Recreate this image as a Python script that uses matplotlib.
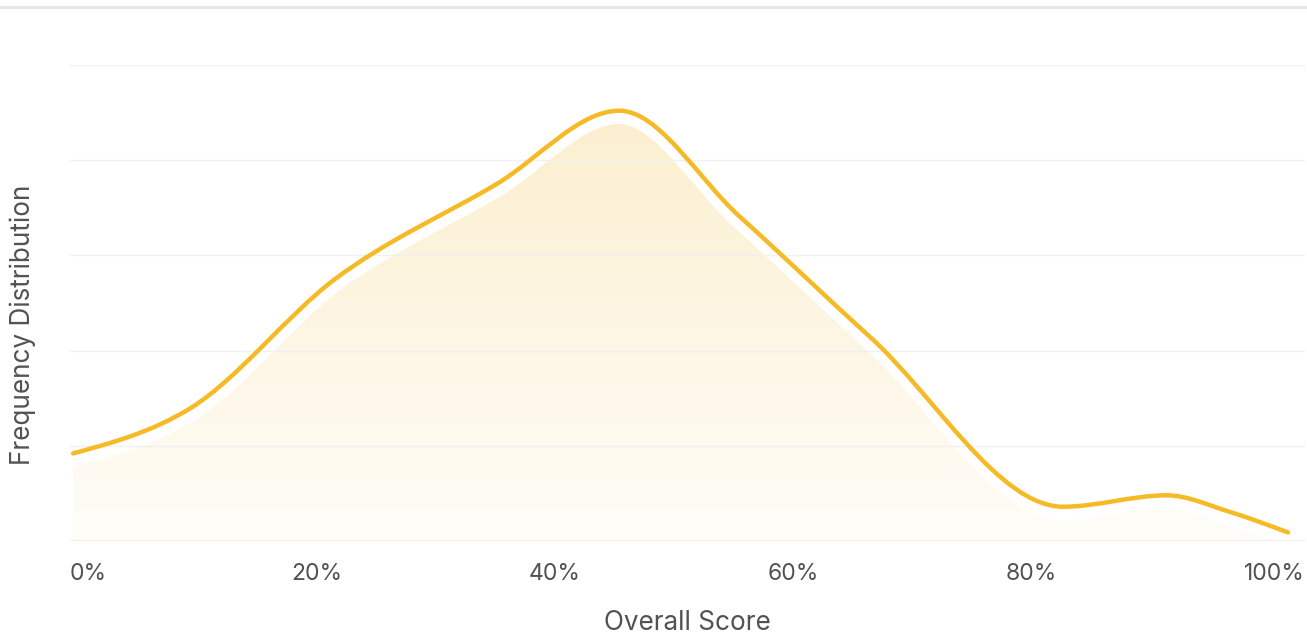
import matplotlib.pyplot as plt
import matplotlib.patheffects as pe
import matplotlib.transforms as mtrans
import numpy as np
from matplotlib.path import Path
from matplotlib.patches import PathPatch
from matplotlib.colors import LinearSegmentedColormap

# curve knots (score in %, frequency in grid units)
score = [-0.5, 9.3, 21.5, 35.1, 45.4, 55.5, 66.5, 82.7, 91.4, 96.6, 101.6]
freq = [0.92, 1.39, 2.75, 3.75, 4.52, 3.41, 2.14, 0.36, 0.48, 0.31, 0.09]
ticks = [0, 20, 40, 60, 80, 100]
tick_labels = ['0%', '20%', '40%', '60%', '80%', '100%']

line_col = '#F6BA26'
text_col = '#525252'
plt.rcParams['font.family'] = ['Inter', 'DejaVu Sans']


def monotone_path(xs, ys):
    # monotone cubic (like d3 curveMonotoneX) drawn as bezier segments
    x = np.asarray(xs, float)
    y = np.asarray(ys, float)
    n = len(x)
    h = np.diff(x)
    s = np.diff(y) / h
    t = np.zeros(n)
    for i in range(1, n - 1):
        p = (s[i - 1] * h[i] + s[i] * h[i - 1]) / (h[i - 1] + h[i])
        t[i] = (np.sign(s[i - 1]) + np.sign(s[i])) * min(abs(s[i - 1]), abs(s[i]), 0.5 * abs(p))
    t[0] = (3 * s[0] - t[1]) / 2
    t[-1] = (3 * s[-1] - t[-2]) / 2
    verts = [[x[0], y[0]]]
    codes = [Path.MOVETO]
    for i in range(n - 1):
        dx = h[i] / 3
        verts += [[x[i] + dx, y[i] + dx * t[i]],
                  [x[i + 1] - dx, y[i + 1] - dx * t[i + 1]],
                  [x[i + 1], y[i + 1]]]
        codes += [Path.CURVE4] * 3
    return verts, codes


fig = plt.figure(figsize=(13.07, 6.38), dpi=100)
W, H = 1307, 638
ax = fig.add_axes([70 / W, 1 - 541 / H, (1305 - 70) / W, (541 - 65) / H])

x0 = (70 - 79) / 11.9
x1 = (1305 - 79) / 11.9
ax.set_xlim(x0, x1)
ax.set_ylim(0, 5)

verts, codes = monotone_path(score, freq)
curve = Path(verts, codes)
area = Path(verts + [[score[-1], 0], [score[0], 0], [score[0], 0]],
            codes + [Path.LINETO, Path.LINETO, Path.CLOSEPOLY])

# gradient fill under the curve
area_patch = PathPatch(area, facecolor='none', edgecolor='none')
ax.add_patch(area_patch)
cmap = LinearSegmentedColormap.from_list('g', ['#FFFDF8', '#FCEFCF'])
grad = np.linspace(0, 1, 256).reshape(-1, 1)
img = ax.imshow(grad, extent=[score[0], score[-1], 0, 4.5], origin='lower',
                aspect='auto', cmap=cmap, zorder=1)
img.set_clip_path(area_patch)

# white gap below the line
gap = PathPatch(curve, facecolor='none', edgecolor='white', lw=11, zorder=2,
                path_effects=[pe.Stroke(offset=(0, -4), linewidth=11, foreground='white')])
ax.add_patch(gap)

for g in [1, 2, 3, 4, 5]:
    ax.axhline(g, color='#F0F0F0', lw=1, zorder=3)
ax.axhline(0, color='#EAEAEA', lw=1.2, zorder=3)

ax.add_patch(PathPatch(curve, facecolor='none', edgecolor=line_col, lw=3.2,
                       capstyle='round', joinstyle='round', zorder=4))

for s in ax.spines.values():
    s.set_visible(False)
ax.set_xticks([])
ax.set_yticks([])

# tick labels, first and last kept inside the plot
tr = mtrans.blended_transform_factory(ax.transData, ax.transAxes)
for i, (t, lab) in enumerate(zip(ticks, tick_labels)):
    ha = 'center'
    xt = t
    if i == 0:
        ha, xt = 'left', x0
    elif i == len(ticks) - 1:
        ha, xt = 'right', x1
    ax.text(xt, -33 / (541 - 65), lab, transform=tr, ha=ha, va='center',
            fontsize=16.5, color=text_col)

fig.text(687 / W, 1 - 623 / H, 'Overall Score', fontsize=18.8,
         color=text_col, ha='center', va='center')
fig.text(23 / W, 1 - 325 / H, 'Frequency Distribution', rotation=90,
         fontsize=18.8, color=text_col, ha='center', va='center')

# top border
fig.add_artist(plt.Line2D([0, 1], [1 - 7 / H, 1 - 7 / H], color='#E6E6E6', lw=2))

fig.savefig('out.png', dpi=100)
